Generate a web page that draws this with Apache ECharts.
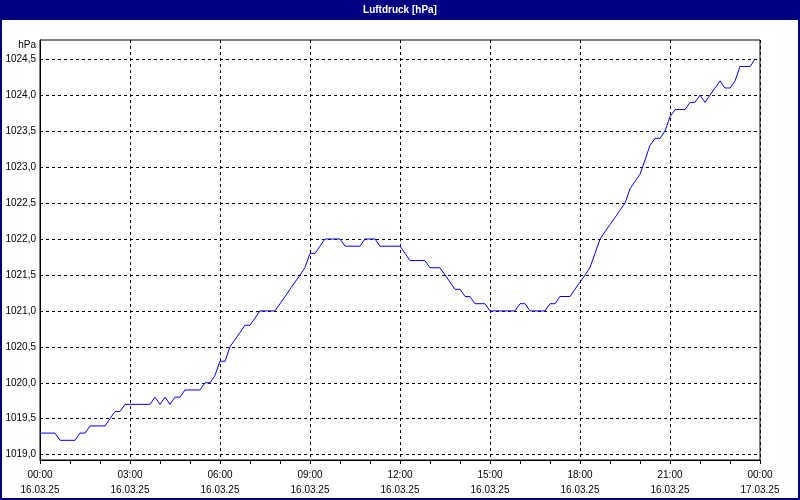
<!DOCTYPE html>
<html>
<head>
<meta charset="utf-8">
<script src="https://cdn.jsdelivr.net/npm/echarts@6/dist/echarts.min.js"></script>
<style>
html,body{margin:0;padding:0;background:#fff;}
#c{width:800px;height:500px;}
</style>
</head>
<body>
<div id="c"></div>
<script>
// Hours since 16.03.25 00:00
var hours = [0,0.5,0.67,1.17,1.33,1.5,1.67,2.17,2.33,2.5,2.67,2.83,3.67,3.83,4.0,4.17,4.33,4.5,4.67,4.83,5.33,5.5,5.67,5.83,6.0,6.17,6.33,6.5,6.67,6.83,7.0,7.17,7.33,7.83,8.0,8.17,8.33,8.5,8.67,8.83,9.0,9.17,9.33,9.5,10.0,10.17,10.67,10.83,11.17,11.33,12.0,12.17,12.33,12.83,13.0,13.33,13.5,13.67,13.83,14.0,14.17,14.33,14.5,14.83,15.0,15.83,16.0,16.17,16.33,16.83,17.0,17.17,17.33,17.67,17.83,18.0,18.17,18.33,18.5,18.67,18.83,19.0,19.17,19.33,19.5,19.67,19.83,20.0,20.17,20.33,20.5,20.67,20.83,21.0,21.17,21.5,21.67,21.83,22.0,22.17,22.33,22.5,22.67,22.83,23.0,23.17,23.33,23.67,23.83];
var pressure = [1019.3,1019.3,1019.2,1019.2,1019.3,1019.3,1019.4,1019.4,1019.5,1019.6,1019.6,1019.7,1019.7,1019.8,1019.7,1019.8,1019.7,1019.8,1019.8,1019.9,1019.9,1020.0,1020.0,1020.1,1020.3,1020.3,1020.5,1020.6,1020.7,1020.8,1020.8,1020.9,1021.0,1021.0,1021.1,1021.2,1021.3,1021.4,1021.5,1021.6,1021.8,1021.8,1021.9,1022.0,1022.0,1021.9,1021.9,1022.0,1022.0,1021.9,1021.9,1021.8,1021.7,1021.7,1021.6,1021.6,1021.5,1021.4,1021.3,1021.3,1021.2,1021.2,1021.1,1021.1,1021.0,1021.0,1021.1,1021.1,1021.0,1021.0,1021.1,1021.1,1021.2,1021.2,1021.3,1021.4,1021.5,1021.6,1021.8,1022.0,1022.1,1022.2,1022.3,1022.4,1022.5,1022.7,1022.8,1022.9,1023.1,1023.3,1023.4,1023.4,1023.5,1023.7,1023.8,1023.8,1023.9,1023.9,1024.0,1023.9,1024.0,1024.1,1024.2,1024.1,1024.1,1024.2,1024.4,1024.4,1024.5];
var yTicks = [1019.0,1019.5,1020.0,1020.5,1021.0,1021.5,1022.0,1022.5,1023.0,1023.5,1024.0,1024.5];
var xTickTimes = ['00:00','03:00','06:00','09:00','12:00','15:00','18:00','21:00','00:00'];
var xTickDates = ['16.03.25','16.03.25','16.03.25','16.03.25','16.03.25','16.03.25','16.03.25','16.03.25','17.03.25'];

var seriesData = hours.map(function(h,i){return [h, pressure[i]];});
var FONT = 'Liberation Sans';

var chart = echarts.init(document.getElementById('c'), null, {renderer:'canvas'});
chart.setOption({
  animation: false,
  backgroundColor: '#ffffff',
  graphic: [
    {type:'rect', z:-10, shape:{x:1,y:1,width:798,height:498}, style:{fill:'#ffffff', stroke:'#000080', lineWidth:2}},
    {type:'rect', z:-9, shape:{x:0,y:0,width:800,height:20}, style:{fill:'#000080'}},
    {type:'text', z:10, x:400, y:10, style:{text:'Luftdruck [hPa]', fill:'#ffffff', font:'bold 10px "'+FONT+'"', textAlign:'center', textVerticalAlign:'middle'}},
    {type:'text', z:10, x:36, y:45, style:{text:'hPa', fill:'#000000', font:'10px "'+FONT+'"', textAlign:'right', textVerticalAlign:'middle'}}
  ],
  grid: {left:40, right:40, top:40, bottom:40, show:true, borderColor:'#000', borderWidth:1, backgroundColor:'#fff', containLabel:false},
  xAxis: {
    type:'value', min:0, max:24, interval:3,
    axisLine:{show:true, lineStyle:{color:'#000', width:1}},
    axisTick:{show:true, length:4, lineStyle:{color:'#000'}},
    minorTick:{show:true, splitNumber:3, length:4, lineStyle:{color:'#000'}},
    splitLine:{show:true, lineStyle:{color:'#000', type:[3,3], width:1}},
    axisLabel:{
      color:'#000', fontFamily:FONT, fontSize:10, lineHeight:15, margin:8,
      formatter:function(v){var i=Math.round(v/3); return xTickTimes[i]+'\n'+xTickDates[i];}
    }
  },
  yAxis: {
    type:'value', min:1018.926, max:1024.768,
    axisLine:{show:true, lineStyle:{color:'#000', width:1}},
    axisTick:{show:false, customValues:yTicks},
    splitLine:{show:true, lineStyle:{color:'#000', type:[3,3], width:1}},
    axisLabel:{
      customValues:yTicks,
      color:'#000', fontFamily:FONT, fontSize:10, margin:4,
      formatter:function(v){return v.toFixed(1).replace('.', ',');}
    }
  },
  series: [{
    type:'line', data:seriesData, showSymbol:false, symbol:'none',
    lineStyle:{color:'#0000ff', width:1}, itemStyle:{color:'#0000ff'}
  }]
});
</script>
</body>
</html>
